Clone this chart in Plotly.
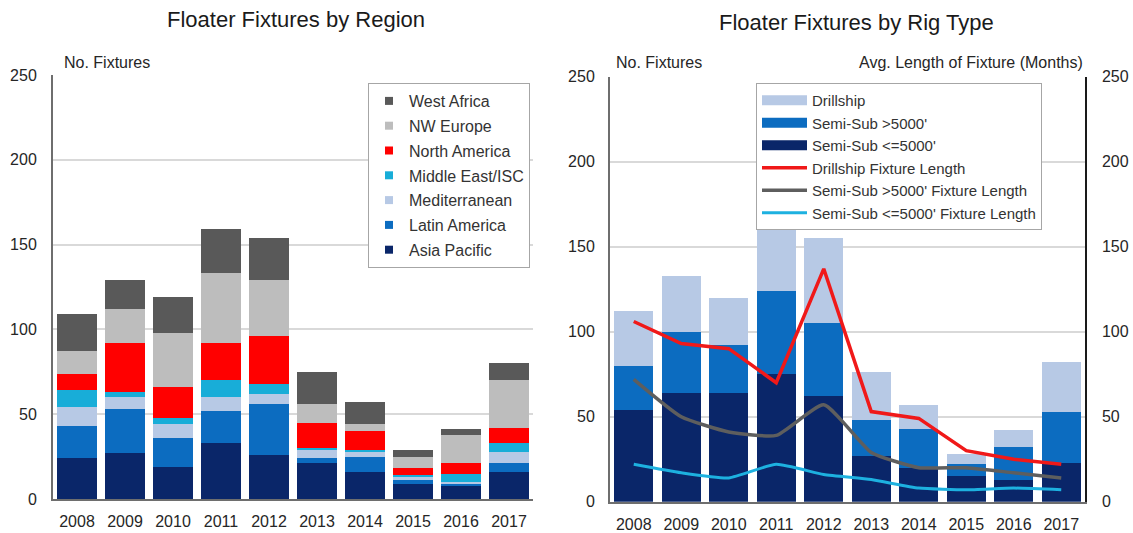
import plotly.graph_objects as go

years = ["2008", "2009", "2010", "2011", "2012", "2013", "2014", "2015", "2016", "2017"]

# Left chart: Floater Fixtures by Region (stack order bottom -> top)
asia_pacific = [24, 27, 19, 33, 26, 21, 16, 9, 8, 16]
latin_america = [19, 26, 17, 19, 30, 3, 9, 2, 1, 5]
mediterranean = [11, 7, 8, 8, 6, 5, 3, 2, 1, 7]
middle_east = [10, 3, 4, 10, 6, 1, 1, 1, 5, 5]
north_america = [10, 29, 18, 22, 28, 15, 11, 4, 6, 9]
nw_europe = [13, 20, 32, 41, 33, 11, 4, 7, 17, 28]
west_africa = [22, 17, 21, 26, 25, 19, 13, 4, 3, 10]

# Right chart: Floater Fixtures by Rig Type
semi_le5000 = [54, 64, 64, 75, 62, 27, 20, 15, 13, 23]
semi_gt5000 = [26, 36, 28, 49, 43, 21, 23, 7, 19, 30]
drillship = [32, 33, 28, 36, 50, 28, 14, 6, 10, 29]
drill_len = [106, 93, 90, 70, 137, 53, 49, 30, 25, 22]
ss_gt_len = [72, 50, 41, 39, 57, 29, 20, 20, 17, 14]
ss_le_len = [22, 17, 14, 22, 16, 13, 8, 7, 8, 7]

W, H = 1133, 533
PT, PB = 74, 503          # plot-area top / bottom in pixels
PH = PB - PT
FONT = "Liberation Sans, Arial, sans-serif"
TXT = "#262626"

NAVY = "#0A2669"
BLUE = "#0C6CC0"
LIGHT = "#B7C9E5"
CYAN = "#18ADD8"
RED = "#FF0000"
LGRAY = "#BDBDBD"
DGRAY = "#595959"

fig = go.Figure()

region_series = [
    ("Asia Pacific", asia_pacific, NAVY, 7),
    ("Latin America", latin_america, BLUE, 6),
    ("Mediterranean", mediterranean, LIGHT, 5),
    ("Middle East/ISC", middle_east, CYAN, 4),
    ("North America", north_america, RED, 3),
    ("NW Europe", nw_europe, LGRAY, 2),
    ("West Africa", west_africa, DGRAY, 1),
]
for name, vals, col, rank in region_series:
    fig.add_trace(go.Bar(x=years, y=vals, name=name, marker=dict(color=col, line=dict(width=0)),
                         xaxis="x", yaxis="y", showlegend=False))
    # small square legend swatch like the reference
    fig.add_trace(go.Scatter(x=[None], y=[None], mode="markers", name=name,
                             marker=dict(color=col, symbol="square", size=8),
                             xaxis="x", yaxis="y", legend="legend", legendgroup=name,
                             legendrank=rank))

rig_series = [
    ("Semi-Sub <=5000'", semi_le5000, NAVY, 3),
    ("Semi-Sub >5000'", semi_gt5000, BLUE, 2),
    ("Drillship", drillship, LIGHT, 1),
]
for name, vals, col, rank in rig_series:
    fig.add_trace(go.Bar(x=years, y=vals, name=name, marker=dict(color=col, line=dict(width=0)),
                         xaxis="x2", yaxis="y2", showlegend=False))
    # legend swatch (wide rectangle like the reference)
    fig.add_trace(go.Scatter(x=[None], y=[None], mode="lines", name=name,
                             line=dict(color=col, width=10), xaxis="x2", yaxis="y2",
                             legend="legend2", legendrank=rank))

line_series = [
    ("Drillship Fixture Length", drill_len, "#F01919", 3.5, "linear", 4),
    ("Semi-Sub >5000' Fixture Length", ss_gt_len, "#5E5E5E", 3.5, "spline", 5),
    ("Semi-Sub <=5000' Fixture Length", ss_le_len, "#1DB1E0", 3, "spline", 6),
]
for name, vals, col, w, shape, rank in line_series:
    fig.add_trace(go.Scatter(x=years, y=vals, name=name, mode="lines",
                             line=dict(color=col, width=w, shape=shape, smoothing=0.5),
                             xaxis="x2", yaxis="y3", legend="legend2", legendrank=rank))

def px_x(p):
    return p / W

def px_y(p):
    return (PB - p) / PH

tickfont = dict(family=FONT, size=16, color=TXT)
grid = "#D9D9D9"
ticks = [0, 50, 100, 150, 200, 250]

fig.update_layout(
    width=W, height=H,
    margin=dict(l=0, r=0, t=PT, b=H - PB, pad=0),
    paper_bgcolor="white", plot_bgcolor="white",
    barmode="stack", bargap=0.17,
    font=dict(family=FONT, color=TXT),
    xaxis=dict(domain=[px_x(53), px_x(533)], type="category", showgrid=False,
               showline=True, linecolor="#6E6E6E", linewidth=2, ticks="",
               tickfont=tickfont, ticklabelstandoff=7),
    yaxis=dict(domain=[px_y(499), px_y(75)], range=[0, 250], tickvals=ticks,
               showgrid=True, gridcolor=grid, gridwidth=2, zeroline=False,
               showline=True, linecolor="#6E6E6E", linewidth=2, ticks="",
               tickfont=tickfont, ticklabelstandoff=11),
    xaxis2=dict(domain=[px_x(610), px_x(1085)], type="category", showgrid=False,
                showline=True, linecolor="#6E6E6E", linewidth=2, ticks="",
                tickfont=tickfont, ticklabelstandoff=7, anchor="y2"),
    yaxis2=dict(domain=[px_y(501.7), px_y(76.7)], range=[0, 250], tickvals=ticks,
                showgrid=True, gridcolor=grid, gridwidth=2, zeroline=False,
                showline=True, linecolor="#6E6E6E", linewidth=2, ticks="",
                tickfont=tickfont, ticklabelstandoff=10, anchor="x2"),
    yaxis3=dict(domain=[px_y(501.7), px_y(76.7)], range=[0, 250], tickvals=ticks,
                overlaying="y2", side="right", anchor="x2", showgrid=False, zeroline=False,
                showline=True, linecolor="#1A1A1A", linewidth=1.5, ticks="",
                tickfont=tickfont, ticklabelstandoff=12),
    legend=dict(x=px_x(368), y=px_y(83), xanchor="left", yanchor="top",
                bgcolor="white", bordercolor="#A6A6A6", borderwidth=1,
                font=dict(family=FONT, size=16, color="#333333"),
                traceorder="grouped", tracegroupgap=1, itemwidth=30),
    legend2=dict(x=px_x(756), y=px_y(83), xanchor="left", yanchor="top",
                 bgcolor="white", bordercolor="#A6A6A6", borderwidth=1,
                 font=dict(family=FONT, size=15, color="#333333"),
                 traceorder="normal", itemwidth=45),
    annotations=[
        dict(text="Floater Fixtures by Region", x=px_x(296), y=px_y(19), xref="paper", yref="paper",
             showarrow=False, xanchor="center", yanchor="middle",
             font=dict(family=FONT, size=22, color="#1A1A1A")),
        dict(text="Floater Fixtures by Rig Type", x=px_x(856), y=px_y(23), xref="paper", yref="paper",
             showarrow=False, xanchor="center", yanchor="middle",
             font=dict(family=FONT, size=22, color="#1A1A1A")),
        dict(text="No. Fixtures", x=px_x(62), y=px_y(62), xref="paper", yref="paper",
             showarrow=False, xanchor="left", yanchor="middle",
             font=dict(family=FONT, size=16, color=TXT)),
        dict(text="No. Fixtures", x=px_x(614), y=px_y(62), xref="paper", yref="paper",
             showarrow=False, xanchor="left", yanchor="middle",
             font=dict(family=FONT, size=16, color=TXT)),
        dict(text="Avg. Length of Fixture (Months)", x=px_x(1085), y=px_y(62), xref="paper", yref="paper",
             showarrow=False, xanchor="right", yanchor="middle",
             font=dict(family=FONT, size=16, color=TXT)),
    ],
)

fig.write_html("out.html", config={"displayModeBar": False},
               post_script="document.body.style.margin='0px';")
